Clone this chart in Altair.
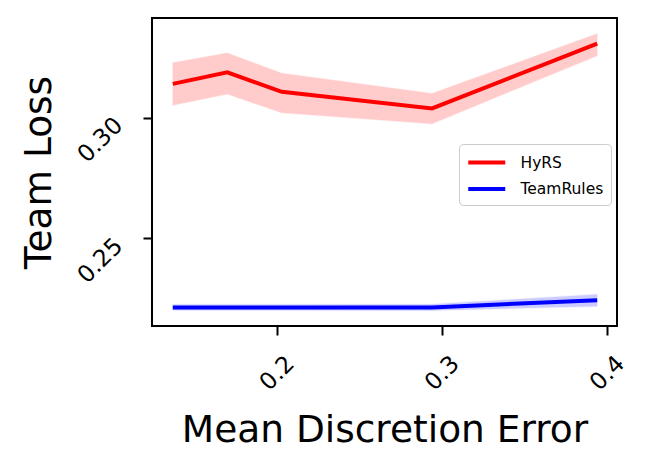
import altair as alt
import pandas as pd

methods = ["HyRS", "TeamRules"]
x_vals = [0.137, 0.170, 0.203, 0.294, 0.394]
hyrs_mean = [0.3141, 0.3189, 0.3108, 0.3039, 0.3308]
hyrs_lo = [0.3052, 0.3099, 0.3021, 0.2976, 0.3258]
hyrs_hi = [0.3228, 0.3269, 0.3185, 0.3101, 0.3349]
team_mean = [0.2214, 0.2214, 0.2214, 0.2214, 0.2244]
team_lo = [0.2202, 0.2202, 0.2202, 0.2201, 0.2219]
team_hi = [0.2226, 0.2226, 0.2226, 0.2227, 0.2268]

rows = []
for m, mean, lo, hi in [("HyRS", hyrs_mean, hyrs_lo, hyrs_hi),
                        ("TeamRules", team_mean, team_lo, team_hi)]:
    for x, a, b, c in zip(x_vals, mean, lo, hi):
        rows.append({"method": m, "x": x, "y": a, "lo": b, "hi": c})
df = pd.DataFrame(rows)

FONT = "DejaVu Sans"
palette = ["#ff0000", "#0000ff"]
color = alt.Color("method:N", scale=alt.Scale(domain=methods, range=palette),
                  legend=alt.Legend(title=None, orient="none", legendX=307, legendY=126,
                                    symbolType="M-1,0L3,0", symbolSize=342, symbolStrokeWidth=4,
                                    labelFontSize=15.5, labelFont=FONT, labelColor="black",
                                    labelOffset=31.5, padding=7, rowPadding=6.5,
                                    fillColor="white", strokeColor="#cccccc", cornerRadius=4))

xs = alt.Scale(domain=[0.1244, 0.406], nice=False, zero=False)
ys = alt.Scale(domain=[0.2137, 0.3414], nice=False, zero=False)

xaxis = alt.Axis(values=[0.2, 0.3, 0.4], format=".1f", title="Mean Discretion Error",
                 grid=False, domain=False, tickColor="black", tickWidth=2, tickSize=9,
                 labelAngle=-45, labelAlign="center", labelBaseline="middle", labelPadding=38,
                 labelFontSize=23.5, labelFont=FONT, labelColor="black",
                 titleFontSize=37.5, titleFont=FONT, titleFontWeight="normal", titleColor="black",
                 titleBaseline="alphabetic", titleY=115)
yaxis = alt.Axis(values=[0.25, 0.30], format=".2f", title="Team Loss",
                 grid=False, domain=False, tickColor="black", tickWidth=2, tickSize=9,
                 labelAngle=-45, labelAlign="center", labelBaseline="middle", labelPadding=43,
                 labelOffset=22,
                 labelFontSize=23.5, labelFont=FONT, labelColor="black",
                 titleFontSize=37.5, titleFont=FONT, titleFontWeight="normal", titleColor="black",
                 titleBaseline="alphabetic", titleAlign="center", titleX=-102, titleY=154)

base = alt.Chart(df)
band = base.mark_area(opacity=0.2, strokeWidth=1.5, strokeOpacity=0.25).encode(
    x=alt.X("x:Q", scale=xs, axis=xaxis),
    y=alt.Y("lo:Q", scale=ys, axis=yaxis),
    y2="hi:Q",
    fill=alt.Fill("method:N", scale=alt.Scale(domain=methods, range=palette), legend=None),
    stroke=alt.Stroke("method:N", scale=alt.Scale(domain=methods, range=palette), legend=None),
    detail="method:N",
)
line = base.mark_line(strokeWidth=4).encode(
    x=alt.X("x:Q", scale=xs, axis=xaxis),
    y=alt.Y("y:Q", scale=ys, axis=yaxis),
    color=color,
)

chart = alt.layer(band, line).resolve_scale(color="independent").properties(
    width=465, height=308,
    autosize=alt.AutoSizeParams(type="none"),
    padding={"left": 144, "top": 10, "right": 27, "bottom": 131},
    background="white",
).configure_view(stroke="black", strokeWidth=2, strokeOpacity=1)

chart.save("out.html", embed_options={"renderer": "svg", "actions": False})
